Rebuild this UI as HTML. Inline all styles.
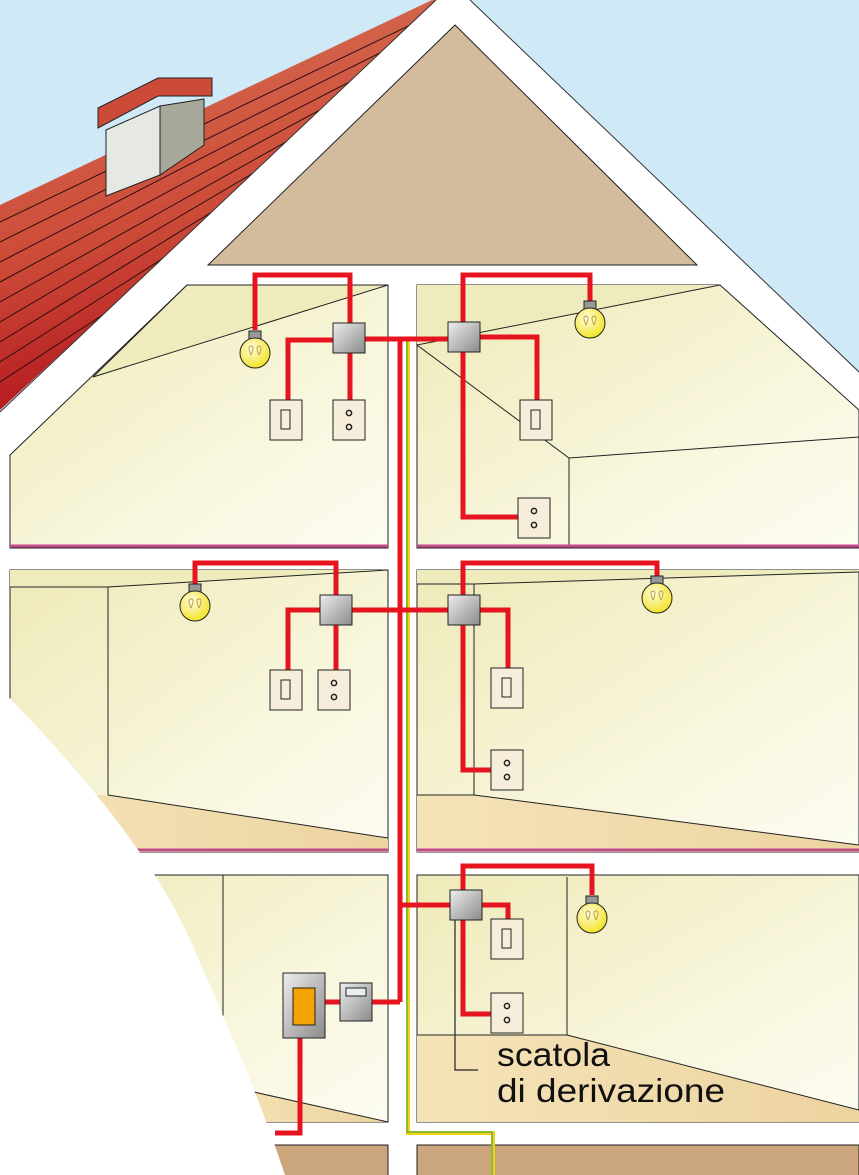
<!DOCTYPE html>
<html><head><meta charset="utf-8"><style>
html,body{margin:0;padding:0;background:#fff}
svg{display:block}
text{font-family:"Liberation Sans","DejaVu Sans",sans-serif}
</style></head><body>
<svg width="859" height="1175" viewBox="0 0 859 1175" xmlns="http://www.w3.org/2000/svg">
<defs>
<linearGradient id="roof" x1="0" y1="0" x2="0.3" y2="1">
<stop offset="0" stop-color="#d9785a"/><stop offset="0.6" stop-color="#cc4a38"/><stop offset="1" stop-color="#b0101a"/></linearGradient>
<linearGradient id="wall" x1="0" y1="0" x2="1" y2="1">
<stop offset="0" stop-color="#eeeab8"/><stop offset="0.6" stop-color="#f8f6dc"/><stop offset="1" stop-color="#fdfcf2"/></linearGradient>
<linearGradient id="floor" x1="0" y1="0" x2="1" y2="0">
<stop offset="0" stop-color="#f5e3b8"/><stop offset="1" stop-color="#ecd4a0"/></linearGradient>
<linearGradient id="box" x1="0" y1="0" x2="1" y2="1">
<stop offset="0" stop-color="#eeeeee"/><stop offset="1" stop-color="#8a8a8a"/></linearGradient>
<radialGradient id="bulb" cx="0.4" cy="0.35" r="0.7">
<stop offset="0" stop-color="#fffbe0"/><stop offset="1" stop-color="#f3e21a"/></radialGradient>
<g id="lamp">
<rect x="-6" y="-14" width="12" height="11" fill="#999" stroke="#222" stroke-width="1"/>
<circle cx="0" cy="8" r="15" fill="url(#bulb)" stroke="#222" stroke-width="1"/>
<path d="M-4 10 q-4 -9 0 -9 q4 0 0 9 M4 10 q-4 -9 0 -9 q4 0 0 9" fill="none" stroke="#b9a54c" stroke-width="1"/>
</g>
<g id="sw"><rect x="0" y="0" width="32" height="40" fill="#f6eedb" stroke="#222"/><rect x="11" y="10" width="9" height="19" fill="#f6eedb" stroke="#222"/></g>
<g id="so"><rect x="0" y="0" width="32" height="40" fill="#f6eedb" stroke="#222"/><circle cx="16" cy="13" r="2.6" fill="none" stroke="#222" stroke-width="1.5"/><circle cx="16" cy="27" r="2.6" fill="none" stroke="#222" stroke-width="1.5"/></g>
<g id="jb"><rect x="0" y="0" width="32" height="30" fill="url(#box)" stroke="#222"/></g>
</defs>

<rect width="859" height="1175" fill="#cfe9f6"/>
<polygon points="0,205 432,0 445,0 0,410" fill="url(#roof)"/>
<g stroke="#2a1010" stroke-width="1" fill="none">
<line x1="0" y1="222" x2="425" y2="18"/><line x1="0" y1="242" x2="410" y2="38"/>
<line x1="0" y1="262" x2="392" y2="60"/><line x1="0" y1="282" x2="372" y2="82"/>
<line x1="0" y1="302" x2="352" y2="105"/><line x1="0" y1="322" x2="330" y2="128"/>
<line x1="0" y1="342" x2="300" y2="158"/><line x1="0" y1="362" x2="255" y2="200"/>
<line x1="0" y1="382" x2="190" y2="258"/>
</g>
<polygon points="106,130 160,106 160,175 106,196" fill="#e6e8e4" stroke="#222"/>
<polygon points="160,106 204,99 204,145 160,175" fill="#a8a89a" stroke="#222"/>
<polygon points="98,108 158,78 212,78 212,96 158,96 98,128" fill="#cc4a38" stroke="#222"/>
<polygon points="436,0 470,0 859,372 859,1175 0,1175 0,412" fill="#fff"/>
<line x1="436" y1="0" x2="0" y2="412" stroke="#333" stroke-width="1"/>
<line x1="470" y1="0" x2="859" y2="372" stroke="#333" stroke-width="1"/>
<polygon points="455,25 208,265 697,265" fill="#d3bb9e" stroke="#222"/>

<polygon points="10,455 187,285 388,285 388,548 10,548" fill="url(#wall)" stroke="#222"/>
<polygon points="187,285 388,285 93,377" fill="#eeecbc" stroke="#222"/>
<line x1="10" y1="546" x2="388" y2="546" stroke="#c04a8a" stroke-width="3"/>
<polygon points="417,285 720,285 859,410 859,548 417,548" fill="url(#wall)" stroke="#222"/>
<polygon points="417,285 720,285 417,345" fill="#eeecbc"/>
<polyline points="720,285 417,345 569,458 859,437" fill="none" stroke="#222"/>
<line x1="569" y1="458" x2="569" y2="547" stroke="#222"/>
<line x1="417" y1="546" x2="859" y2="546" stroke="#c04a8a" stroke-width="3"/>

<rect x="10" y="570" width="378" height="282" fill="url(#wall)" stroke="#222"/>
<polygon points="10,570 388,570 108,587 10,587" fill="#eeecbc"/>
<polyline points="10,587 108,587 388,570" fill="none" stroke="#222"/>
<line x1="108" y1="587" x2="108" y2="795" stroke="#222"/>
<polygon points="108,795 388,838 388,852 10,852 10,795" fill="url(#floor)"/>
<line x1="108" y1="795" x2="388" y2="838" stroke="#222"/>
<line x1="10" y1="850" x2="388" y2="850" stroke="#c04a8a" stroke-width="3"/>
<rect x="417" y="570" width="442" height="282" fill="url(#wall)" stroke="#222"/>
<polygon points="417,570 859,570 859,572 474,584 417,584" fill="#eeecbc"/>
<polyline points="417,584 474,584 859,572" fill="none" stroke="#222"/>
<line x1="474" y1="584" x2="474" y2="795" stroke="#222"/>
<polygon points="417,795 474,795 859,845 859,852 417,852" fill="url(#floor)"/>
<line x1="417" y1="795" x2="474" y2="795" stroke="#222"/>
<line x1="474" y1="795" x2="859" y2="845" stroke="#222"/>
<line x1="417" y1="850" x2="859" y2="850" stroke="#c04a8a" stroke-width="3"/>

<rect x="10" y="875" width="378" height="247" fill="url(#wall)" stroke="#222"/>
<line x1="223" y1="875" x2="223" y2="1050" stroke="#222"/>
<polygon points="200,1080 388,1122 200,1122" fill="url(#floor)"/>
<line x1="200" y1="1080" x2="388" y2="1122" stroke="#222"/>
<rect x="417" y="875" width="442" height="247" fill="url(#wall)" stroke="#222"/>
<line x1="567" y1="877" x2="567" y2="1035" stroke="#222"/>
<polygon points="417,1035 567,1035 859,1110 859,1122 417,1122" fill="url(#floor)"/>
<line x1="417" y1="1035" x2="567" y2="1035" stroke="#222"/>
<line x1="567" y1="1035" x2="859" y2="1110" stroke="#222"/>
<rect x="10" y="1145" width="378" height="40" fill="#cba57c" stroke="#222"/>
<rect x="417" y="1145" width="442" height="40" fill="#cba57c" stroke="#222"/>

<path d="M0,688 C70,760 150,850 190,940 C230,1030 260,1100 285,1175 L0,1175 Z" fill="#fff"/>

<polyline points="408,340 408,1133 493,1133 493,1175" fill="none" stroke="#f1d21a" stroke-width="4"/>
<polyline points="407,340 407,1132 492,1132 492,1175" fill="none" stroke="#6cb33a" stroke-width="1.5"/>

<g fill="none" stroke="#e5141f" stroke-width="5">
<line x1="400" y1="338" x2="400" y2="1002"/>
<line x1="350" y1="339" x2="463" y2="339"/>
<polyline points="255,330 255,275 350,275 350,330"/>
<polyline points="350,340 288,340 288,405"/>
<line x1="350" y1="340" x2="350" y2="405"/>
<polyline points="463,338 463,275 590,275 590,305"/>
<polyline points="463,337 537,337 537,405"/>
<polyline points="463,337 463,517 520,517"/>
<polyline points="195,585 195,563 336,563 336,600"/>
<polyline points="336,610 288,610 288,672"/>
<line x1="336" y1="610" x2="336" y2="672"/>
<line x1="336" y1="610" x2="463" y2="610"/>
<polyline points="463,600 463,563 657,563 657,580"/>
<polyline points="463,610 508,610 508,672"/>
<polyline points="463,610 463,770 493,770"/>
<line x1="400" y1="905" x2="463" y2="905"/>
<polyline points="463,895 463,866 592,866 592,895"/>
<polyline points="463,905 508,905 508,922"/>
<polyline points="463,905 463,1014 493,1014"/>
<line x1="325" y1="1002" x2="400" y2="1002"/>
<polyline points="300,1035 300,1133 275,1133"/>
</g>

<use href="#lamp" x="255" y="345"/>
<use href="#jb" x="333" y="323"/>
<use href="#sw" x="270" y="400"/>
<use href="#so" x="333" y="400"/>
<use href="#jb" x="448" y="322"/>
<use href="#lamp" x="590" y="315"/>
<use href="#sw" x="520" y="400"/>
<use href="#so" x="518" y="498"/>

<use href="#lamp" x="195" y="598"/>
<use href="#jb" x="320" y="595"/>
<use href="#sw" x="270" y="670"/>
<use href="#so" x="318" y="670"/>
<use href="#jb" x="448" y="595"/>
<use href="#lamp" x="657" y="590"/>
<use href="#sw" x="491" y="668"/>
<use href="#so" x="491" y="750"/>

<use href="#jb" x="450" y="890"/>
<use href="#lamp" x="592" y="910"/>
<use href="#sw" x="491" y="919"/>
<use href="#so" x="491" y="993"/>

<rect x="283" y="973" width="42" height="65" fill="url(#box)" stroke="#222"/>
<rect x="293" y="988" width="22" height="37" fill="#f5a300" stroke="#222"/>
<rect x="340" y="983" width="32" height="38" fill="url(#box)" stroke="#222"/>
<rect x="346" y="988" width="20" height="8" fill="#e8eef2" stroke="#222"/>

<polyline points="455,920 455,1070 478,1070" fill="none" stroke="#222" stroke-width="1.2"/>
<text x="497" y="1066" font-size="33" fill="#111" textLength="113" lengthAdjust="spacingAndGlyphs">scatola</text>
<text x="497" y="1102" font-size="33" fill="#111" textLength="228" lengthAdjust="spacingAndGlyphs">di derivazione</text>
</svg>
</body></html>
